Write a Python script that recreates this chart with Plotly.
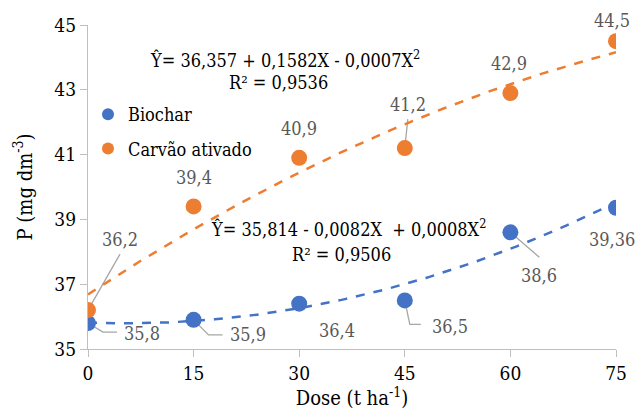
import numpy as np
import plotly.graph_objects as go

dose = [0, 15, 30, 45, 60, 75]
biochar = [35.8, 35.9, 36.4, 36.5, 38.6, 39.36]
carvao = [36.2, 39.4, 40.9, 41.2, 42.9, 44.5]
biochar_labels = ["35,8", "35,9", "36,4", "36,5", "38,6", "39,36"]
carvao_labels = ["36,2", "39,4", "40,9", "41,2", "42,9", "44,5"]
x_ticks = [0, 15, 30, 45, 60, 75]
y_ticks = [35, 37, 39, 41, 43, 45]

BLUE = "#4472C4"
ORANGE = "#ED7D31"
GREY_TXT = "#595959"
GREY_LINE = "#A6A6A6"
AXIS = "#BFBFBF"
FONT = "DejaVu Serif Condensed, DejaVu Serif"

L, R, T, B = 88, 22, 25, 65
PW, PH = 638 - L - R, 414 - T - B

xs = np.linspace(0, 75, 151)
pb = np.polyfit(dose, biochar, 2)
pc = np.polyfit(dose, carvao, 2)

fig = go.Figure()
fig.add_trace(go.Scatter(x=xs, y=np.polyval(pc, xs), mode="lines",
                         line=dict(color=ORANGE, width=2.5, dash="dash"),
                         showlegend=False, hoverinfo="skip"))
fig.add_trace(go.Scatter(x=xs, y=np.polyval(pb, xs), mode="lines",
                         line=dict(color=BLUE, width=2.5, dash="dash"),
                         showlegend=False, hoverinfo="skip"))
fig.add_trace(go.Scatter(x=dose, y=biochar, mode="markers", name="Biochar",
                         legendgroup="a", marker=dict(color=BLUE, size=16)))
fig.add_trace(go.Scatter(x=dose, y=carvao, mode="markers", name="Carvão ativado",
                         legendgroup="b", marker=dict(color=ORANGE, size=16)))

lab_font = dict(family=FONT, size=18, color=GREY_TXT)
off_b = [(54, -10), (54, -15), (38, -27), (45, -26), (29, -43), (-4, -32)]
lead_b = ["M 0,0 L 15,-9 L 29,-9", "M 0,0 L 15,-15 L 29,-15", None,
          "M 0,0 L 5,-24 L 16,-24", "M 0,0 L 29,-25", None]
off_c = [(32, 71), (0, 29), (0, 29), (3, 44), (-1, 30), (-4, 21)]
lead_c = ["M 0,0 L 32,56", None, None, "M 0,0 L 3,29", None, None]

for ys, labs, offs, leads in [(biochar, biochar_labels, off_b, lead_b),
                              (carvao, carvao_labels, off_c, lead_c)]:
    for xv, yv, t, (dx, dy), p in zip(dose, ys, labs, offs, leads):
        fig.add_annotation(x=xv, y=yv, text=t, showarrow=False, xshift=dx, yshift=dy,
                           font=lab_font)
        if p:
            fig.add_shape(type="path", xref="x", yref="y", xsizemode="pixel", ysizemode="pixel",
                          xanchor=xv, yanchor=yv, path=p, layer="below",
                          line=dict(color=GREY_LINE, width=1.3))

eq_font = dict(family=FONT, size=18, color="black")
def px(xp):
    return (xp - L) / PW
def py(yp):
    return (414 - B - yp) / PH

fig.add_annotation(xref="paper", yref="paper", x=px(422), y=py(45), xanchor="right",
                   text="Ŷ= 36,357 + 0,1582X - 0,0007X<sup>2</sup>", showarrow=False, font=eq_font)
fig.add_annotation(xref="paper", yref="paper", x=px(330), y=py(70), xanchor="right",
                   text="R² = 0,9536", showarrow=False, font=eq_font)
fig.add_annotation(xref="paper", yref="paper", x=px(488), y=py(242), xanchor="right",
                   text="Ŷ= 35,814 - 0,0082X  + 0,0008X<sup>2</sup>", showarrow=False, font=eq_font)
fig.add_annotation(xref="paper", yref="paper", x=px(393), y=py(267), xanchor="right",
                   text="R² = 0,9506", showarrow=False, font=eq_font)

axis_common = dict(showgrid=False, zeroline=False, showline=True, linecolor=AXIS, linewidth=1.3,
                   ticks="outside", ticklen=7, tickcolor=AXIS, tickwidth=1.3, automargin=False,
                   tickfont=dict(family=FONT, size=19, color="black"))
fig.update_layout(
    width=638, height=414,
    margin=dict(l=L, r=R, t=T, b=B),
    paper_bgcolor="white", plot_bgcolor="white",
    font=dict(family=FONT, size=18, color="black"),
    legend=dict(x=0.0, y=py(96), xanchor="left", yanchor="top",
                font=dict(family=FONT, size=18, color="black"),
                bgcolor="rgba(0,0,0,0)", tracegroupgap=8, itemsizing="constant"),
    xaxis=dict(range=[0, 75], tickvals=x_ticks, ticktext=[str(v) for v in x_ticks],
               title=dict(text="Dose (t ha<sup>-1</sup>)", font=dict(family=FONT, size=20), standoff=8),
               **axis_common),
    yaxis=dict(range=[35, 45], tickvals=y_ticks, ticktext=[str(v) for v in y_ticks],
               title=dict(text="P (mg dm<sup>-3</sup>)", font=dict(family=FONT, size=20), standoff=16),
               **axis_common),
)
fig.write_html("out.html")
